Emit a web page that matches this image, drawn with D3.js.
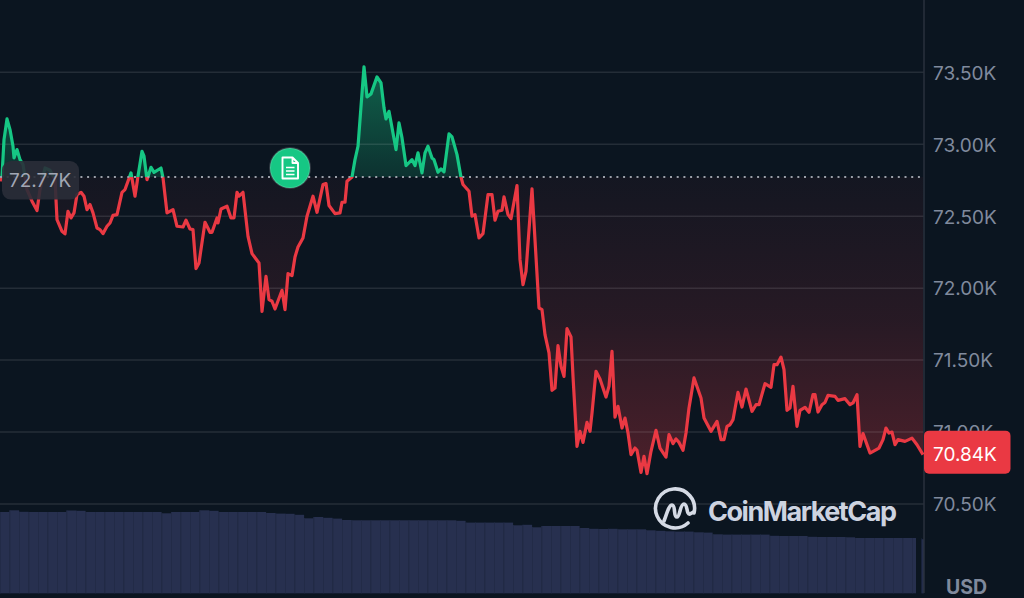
<!DOCTYPE html>
<html><head><meta charset="utf-8">
<script src="https://cdn.jsdelivr.net/npm/d3@7/dist/d3.min.js"></script>
<style>html,body{margin:0;padding:0;background:#0b1520;overflow:hidden}svg{display:block}text{font-family:Inter,"Noto Sans",sans-serif}</style>
</head><body><svg id="c" width="1024" height="598"></svg>
<script>
const minutes=[0,2,4,7,10,13,14,17,20,23,27,32,37,40,45,50,55,57,62,65,68,71,74,77,81,84,87,90,93,97,100,103,107,110,113,117,122,125,131,135,138,142,144,147,151,154,161,163,167,173,177,183,186,190,193,196,199,205,210,212,217,218,221,227,231,234,237,239,243,248,252,259,262,266,269,272,275,282,285,288,292,295,298,303,307,313,317,323,326,329,335,340,
342,345,347,352,355,358,364,367,371,377,381,384,386,389,396,399,402,406,412,415,418,422,425,428,432,434,438,441,444,449,452,457,461,463,469,472,475,479,483,488,492,495,498,502,504,508,511,517,520,523,526,532,539,542,545,549,552,555,558,561,564,567,571,573,577,
580,583,587,590,592,596,600,606,609,612,615,618,622,625,628,631,635,637,641,644,647,651,656,660,666,669,673,676,679,683,686,689,694,701,704,711,717,721,724,727,730,733,738,742,746,752,756,759,765,771,774,777,781,784,787,790,
793,797,800,805,809,813,815,818,822,825,828,835,838,845,850,853,857,860,863,870,875,879,883,886,889,892,895,898,905,912,917,923];
const prices=[72.743,72.778,73.032,73.176,73.102,72.986,72.905,72.963,72.893,72.859,72.685,72.604,72.539,72.685,72.835,72.819,72.754,72.476,72.395,72.377,72.534,72.488,72.523,72.65,72.666,72.639,72.546,72.581,72.523,72.418,72.407,72.379,72.43,72.453,72.506,72.511,72.666,72.685,72.801,72.639,72.778,72.951,72.917,72.754,72.84,72.805,72.835,72.766,72.523,72.546,72.43,72.425,72.472,72.411,72.407,72.136,72.175,72.458,72.388,72.388,72.488,72.453,72.55,72.569,72.488,72.488,72.666,72.639,72.666,72.36,72.24,72.175,71.839,72.082,71.92,71.909,71.855,71.985,71.851,72.101,72.087,72.217,72.286,72.349,72.5,72.639,72.527,72.72,72.727,72.574,72.518,72.523,
72.597,72.597,72.743,72.773,72.893,72.986,73.538,73.329,73.35,73.468,73.426,73.253,73.176,73.229,72.963,73.148,73.044,72.852,72.893,72.852,72.94,72.801,72.94,72.986,72.905,72.893,72.805,72.829,72.808,73.072,73.051,72.928,72.771,72.72,72.673,72.5,72.511,72.349,72.379,72.65,72.65,72.472,72.534,72.541,72.634,72.511,72.483,72.713,72.198,72.024,72.117,72.69,71.862,71.851,71.677,71.55,71.29,71.306,71.6,71.457,71.387,71.719,71.661,71.387,70.901,
71.005,70.928,71.067,71.005,71.132,71.422,71.369,71.243,71.318,71.561,71.104,71.179,71.028,71.097,70.993,70.843,70.889,70.873,70.72,70.831,70.711,70.866,71.012,70.889,70.826,70.982,70.919,70.952,70.928,70.873,70.993,71.167,71.376,71.236,71.097,71.005,71.074,70.947,70.947,71.04,71.051,71.086,71.276,71.174,71.299,71.144,71.19,71.19,71.336,71.311,71.468,71.468,71.521,71.433,71.151,71.167,
71.318,71.04,71.151,71.172,71.137,71.26,71.26,71.139,71.19,71.206,71.255,71.248,71.22,71.232,71.19,71.202,71.26,70.901,70.989,70.854,70.873,70.889,70.947,71.028,70.993,71,70.912,70.947,70.935,70.958,70.912,70.843];
const volumes=[81.3,83,81.5,81.3,81.3,81.3,81.3,82.8,82.5,81.3,81.3,81.3,81.3,81.3,81.3,81.3,81.3,80,81.3,81.3,81.3,83,82.5,81.3,81.3,81.3,81.3,81.3,80.3,79.7,79.5,78.5,75,76.3,75.5,74.7,73.3,73,73,73,73,73,73,73,73,73,73,73,72.5,70.7,70.7,70.7,70.7,70.7,68,68.5,66,67.3,67.3,67.3,67.3,65.3,64.5,64.3,64.5,64,64,64,63,62.5,62,61.7,61.7,61,60.7,59,58.7,58.7,58.7,58.7,58.7,57.5,57.3,57.3,57.3,56.5,56.3,56.3,56.3,56,55.3,55.3,55.3,55.3,55.3,55.3,55.3,54];
const tickValues=[70.5,71,71.5,72,72.5,73,73.5];
const baseline=72.772;
const brand="CoinMarketCap", unit="USD";

const W=1024,H=598,plotR=924;
const c={bg:"#0b1520",red:"#ea3943",green:"#16c784",tick:"#808a9d",grid:"rgba(255,255,255,0.105)"};
const svg=d3.select("#c");
const x=d3.scaleLinear().domain([0,924]).range([0,plotR]);
const y=d3.scaleLinear().domain([70.5,73.5]).range([504,72.3]);
const volBand=d3.scaleLinear().domain([0,97]).range([0,921.5]);
const volY=d3.scaleLinear().domain([0,84]).range([593.3,509.3]);
const yb=y(baseline);
const pts=minutes.map((m,i)=>[m,prices[i]]);

svg.append("rect").attr("width",W).attr("height",H).attr("fill",c.bg);
const defs=svg.append("defs");
function grad(id,y1,y2,col,stops){const g=defs.append("linearGradient").attr("id",id).attr("gradientUnits","userSpaceOnUse").attr("x1",0).attr("x2",0).attr("y1",y1).attr("y2",y2);
 stops.forEach(s=>g.append("stop").attr("offset",s[0]).attr("stop-color",col).attr("stop-opacity",s[1]));}
grad("gGreen",y(73.5),yb,c.green,[[0,0.42],[1,0.16]]);
grad("gRed",yb,y(70.5),c.red,[[0,0.04],[0.436,0.125],[1,0.33]]);
defs.append("clipPath").attr("id","above").append("rect").attr("x",0).attr("y",0).attr("width",plotR).attr("height",yb);
defs.append("clipPath").attr("id","below").append("rect").attr("x",0).attr("y",yb).attr("width",plotR).attr("height",H-yb);
const vc=defs.append("clipPath").attr("id","volClip");
vc.append("rect").attr("x",0).attr("y",480).attr("width",916).attr("height",118);
vc.append("rect").attr("x",921.5).attr("y",480).attr("width",2.5).attr("height",118);

// volume
const vg=svg.append("g").attr("clip-path","url(#volClip)");
const vStep=volBand(1)-volBand(0);
vg.selectAll("rect.b").data(volumes).join("rect").attr("class","b").attr("x",(d,i)=>volBand(i)).attr("width",vStep+0.1).attr("y",d=>volY(d)).attr("height",d=>volY(0)-volY(d)).attr("fill","#27304f");
vg.selectAll("rect.s").data(volumes).join("rect").attr("class","s").attr("x",(d,i)=>volBand(i)).attr("width",1).attr("y",d=>volY(d)).attr("height",d=>volY(0)-volY(d)).attr("fill","#222b47");

// areas
const area=d3.area().x(d=>x(d[0])).y0(yb).y1(d=>y(d[1]));
svg.append("path").attr("d",area(pts)).attr("fill","url(#gGreen)").attr("clip-path","url(#above)");
svg.append("path").attr("d",area(pts)).attr("fill","url(#gRed)").attr("clip-path","url(#below)");

// grid + axis
const axis=d3.axisRight(y).tickValues(tickValues).tickFormat(d=>d.toFixed(2)+"K").tickSizeInner(0).tickSizeOuter(0).tickPadding(9);
const ag=svg.append("g").attr("transform",`translate(${plotR},0)`).call(axis);
ag.select(".domain").remove();
ag.selectAll("text").attr("fill",c.tick).attr("font-size",19).attr("font-family","Inter").attr("dy","0.36em");
svg.append("g").selectAll("line").data(tickValues).join("line").attr("x1",0).attr("x2",plotR).attr("y1",d=>y(d)).attr("y2",d=>y(d)).attr("stroke",c.grid).attr("stroke-width",1.5);
svg.append("line").attr("x1",plotR).attr("x2",plotR).attr("y1",0).attr("y2",593).attr("stroke","#2a313c").attr("stroke-width",1.5);

// line
const line=d3.line().x(d=>x(d[0])).y(d=>y(d[1]));
const addLine=(col,clip)=>svg.append("path").attr("d",line(pts)).attr("fill","none").attr("stroke",col).attr("stroke-width",3.2).attr("stroke-linejoin","round").attr("clip-path",`url(#${clip})`);
addLine(c.green,"above");addLine(c.red,"below");

// baseline
svg.append("line").attr("x1",0).attr("x2",plotR).attr("y1",yb).attr("y2",yb).attr("stroke","#9a9fa8").attr("stroke-width",2).attr("stroke-dasharray","2 4.7");

// base pill
svg.append("rect").attr("x",2).attr("y",yb-16).attr("width",77).attr("height",38.5).attr("rx",9).attr("fill","#2a2e38").attr("fill-opacity",0.9);
svg.append("text").attr("x",9).attr("y",yb+9.5).attr("fill","#a1a7b4").attr("font-size",19).text(baseline.toFixed(2)+"K");

// note marker
const nm=svg.append("g").attr("transform","translate(290,168)");
nm.append("circle").attr("r",20).attr("fill",c.green).attr("stroke","rgba(255,255,255,0.16)").attr("stroke-width",2);
nm.append("path").attr("d","M-7.5,-10.5 H2.5 L8,-5 V10.5 H-7.5 Z M2.5,-10.5 V-5 H8").attr("fill","none").attr("stroke","#fff").attr("stroke-width",1.9).attr("stroke-linejoin","round");
nm.append("path").attr("d","M-4,-0.5 H4.5 M-4,3 H4.5 M-4,6.5 H4.5").attr("stroke","#fff").attr("stroke-width",1.6);

// last price pill
const last=prices[prices.length-1];
svg.append("rect").attr("x",924).attr("y",y(last)-24).attr("width",86.5).attr("height",43).attr("rx",5).attr("fill",c.red);
svg.append("text").attr("x",933).attr("y",y(last)+6).attr("fill","#fff").attr("font-size",19).text(last.toFixed(2)+"K");

// usd
svg.append("text").attr("x",946).attr("y",593.5).attr("fill",c.tick).attr("font-size",19.5).attr("font-weight",700).text(unit);

// brand
const lg=svg.append("g").attr("fill","none").attr("stroke","#d5dae5").attr("stroke-width",3.6).attr("stroke-linecap","round").attr("stroke-linejoin","round");
lg.append("path").attr("d","M688,523 A19.5 19.5 0 1 1 694,513");
lg.append("path").attr("d","M664,521 C667,513 669,505 672,505 C676,505 673,517 677,517 C680,517 680,504 684,504 C688,504 686,515 690,514 L693.5,512");
svg.append("text").attr("x",708).attr("y",520.5).attr("fill","#cdd3e0").attr("font-family","Lato").attr("font-size",27).attr("font-weight",700).attr("textLength",189).attr("lengthAdjust","spacing").text(brand);
</script></body></html>
